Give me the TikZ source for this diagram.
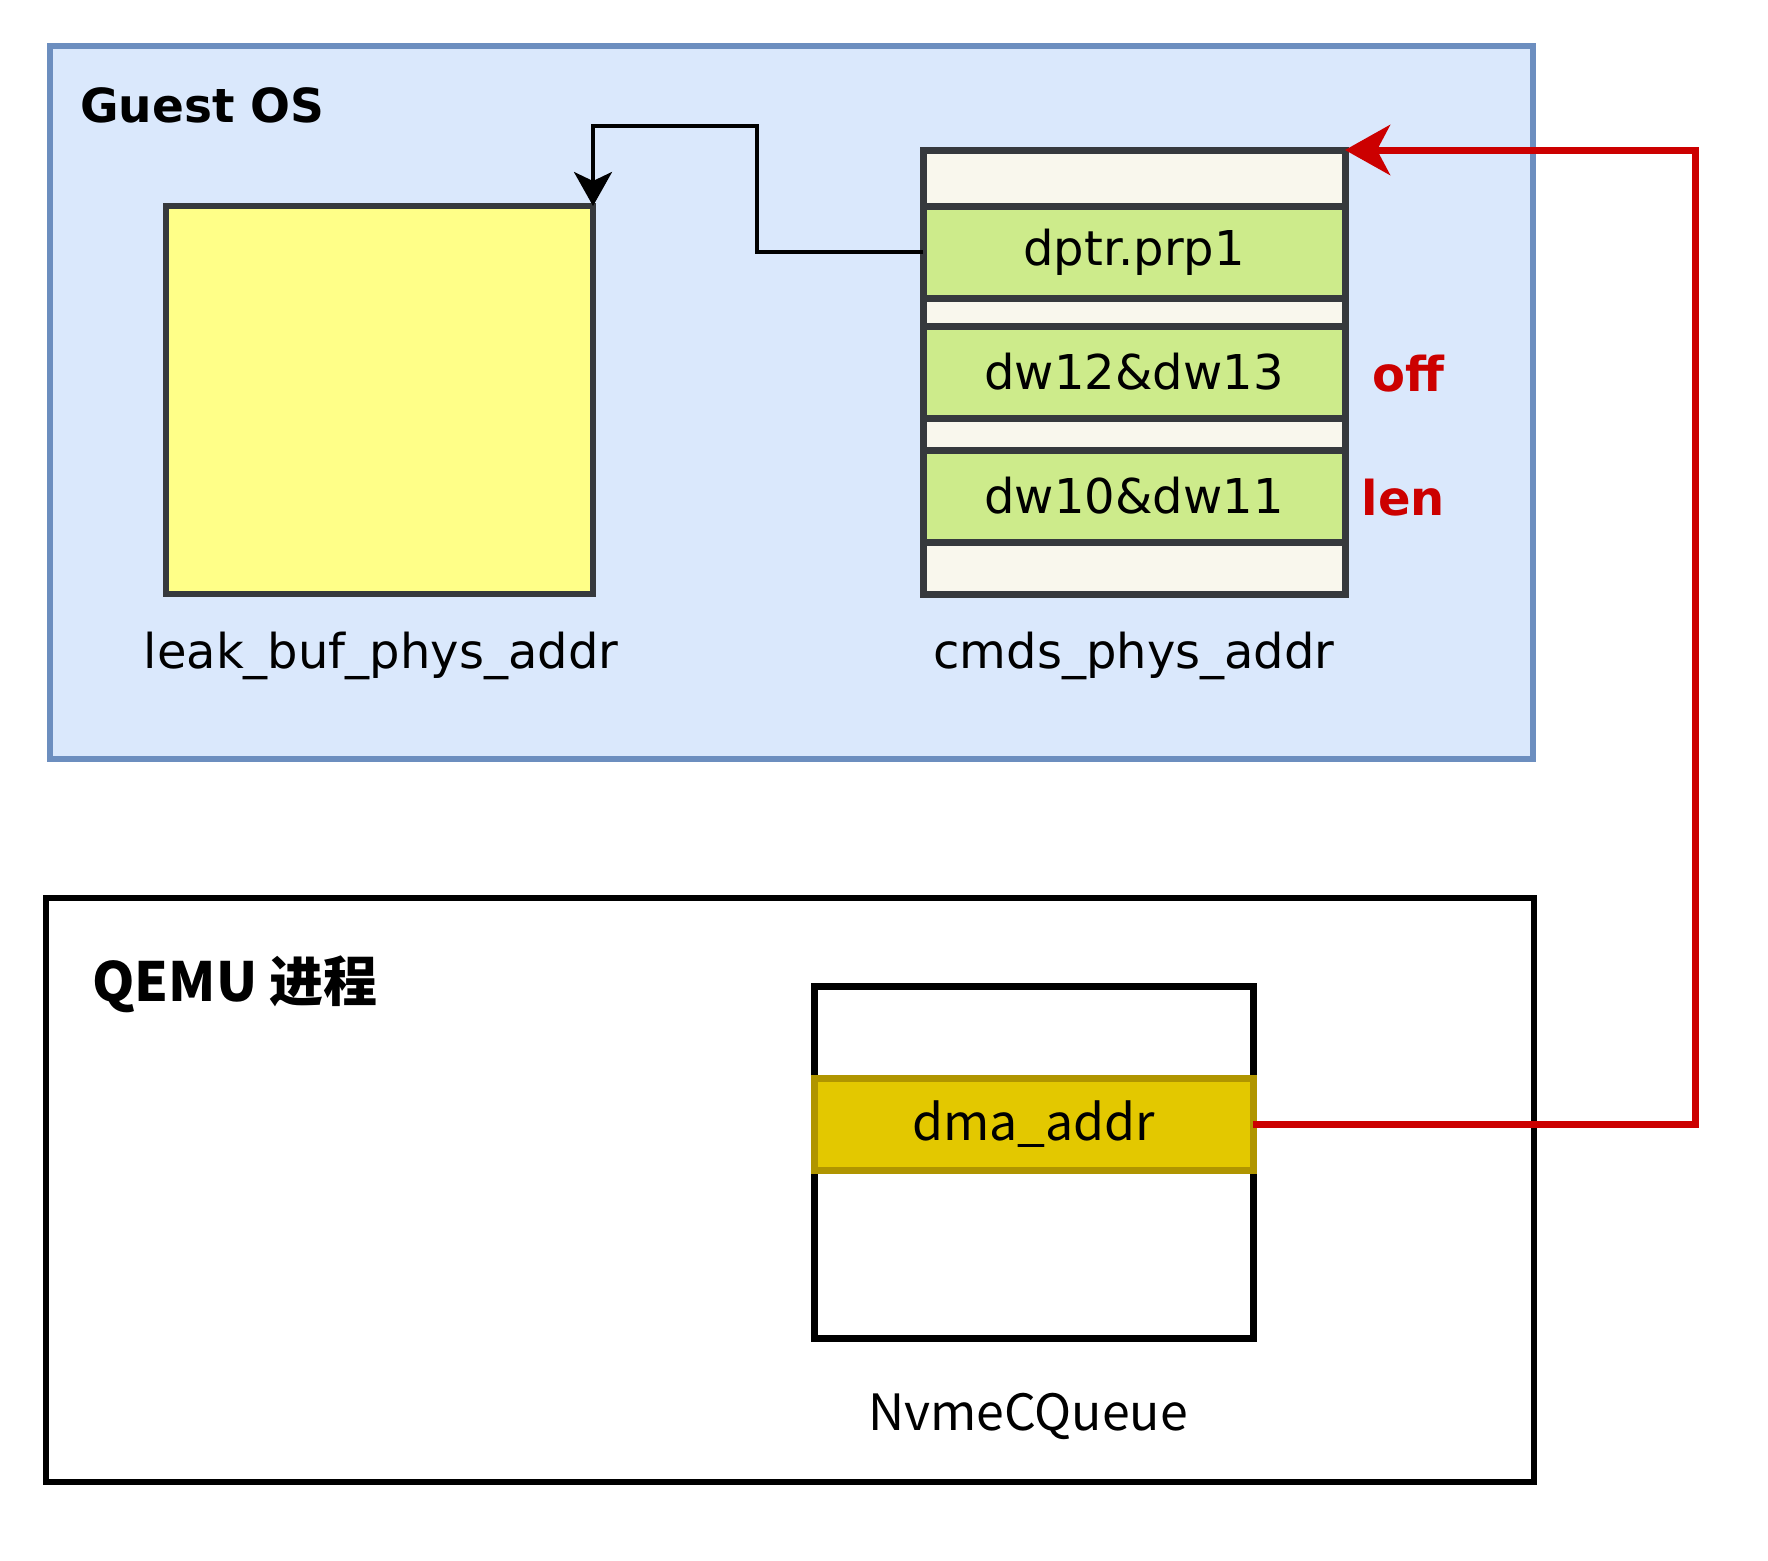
\documentclass[tikz,border=0pt]{standalone}
\usepackage{fontspec}
\setmainfont{DejaVu Sans}
\newfontfamily\cjkfont{Noto Sans CJK SC}
\usetikzlibrary{arrows.meta}
\definecolor{guestfill}{HTML}{DAE8FC}
\definecolor{gueststroke}{HTML}{6C8EBF}
\definecolor{bufyellow}{HTML}{FFFF88}
\definecolor{cellgray}{HTML}{36393D}
\definecolor{cellblank}{HTML}{F9F7ED}
\definecolor{cellgreen}{HTML}{CDEB8B}
\definecolor{dmafill}{HTML}{E3C800}
\definecolor{dmastroke}{HTML}{B09500}
\definecolor{ptrred}{HTML}{CC0000}
\tikzset{
  box/.style={draw=cellgray, line width=6pt, inner sep=0pt, outer sep=0pt},
  cell/.style={draw=cellgray, line width=7pt, inner sep=0pt, outer sep=0pt,
    minimum width=422pt, font=\fontsize{48}{56}\selectfont},
  lbl/.style={inner sep=0pt, font=\fontsize{48}{56}\selectfont},
  redlbl/.style={inner sep=0pt, text=ptrred, font=\fontsize{48}{56}\selectfont\bfseries},
  qlbl/.style={inner sep=0pt, font=\cjkfont\fontsize{50}{58}\selectfont},
}

\begin{document}
\begin{tikzpicture}[x=1pt,y=-1pt]
          \useasboundingbox (0,0) rectangle (1768,1560);

          % --- 1. Guest OS 外框 ---
          \node[draw=gueststroke, fill=guestfill, line width=6pt, inner sep=0pt,
            minimum width=1483pt, minimum height=713pt] (guest) at (791.5,402.5) {};
          \node[inner sep=0pt, anchor=base west, font=\fontsize{47}{55}\selectfont\bfseries]
            (guestname) at (80,122) {Guest OS};

          % --- 2. leak buffer ---
          \node[box, fill=bufyellow, minimum width=427pt, minimum height=388pt] (buf) at (379.5,400) {};
          \node[lbl, anchor=base] (bufname) at (381,668) {leak\_buf\_phys\_addr};

          % --- 3. cmds 各欄位 (由上而下) ---
          \node[cell, fill=cellblank, minimum height=56pt] (blank0) at (1134,178) {};
          \node[cell, fill=cellgreen, minimum height=92pt] (dptr) at (1134,252) {\raisebox{-4pt}{dptr.prp1}};
          \node[cell, fill=cellblank, minimum height=28pt] (blank1) at (1134,312) {};
          \node[cell, fill=cellgreen, minimum height=92pt] (dw12) at (1134,372) {dw12\&dw13};
          \node[cell, fill=cellblank, minimum height=32pt] (blank2) at (1134,434) {};
          \node[cell, fill=cellgreen, minimum height=92pt] (dw10) at (1134,496) {dw10\&dw11};
          \node[cell, fill=cellblank, minimum height=52pt] (blank3) at (1134,568) {};
          \node[lbl, anchor=base] (cmdsname) at (1134,668) {cmds\_phys\_addr};
          \node[redlbl, anchor=base east] (off) at (1445,391) {off};
          \node[redlbl, anchor=base east] (len) at (1445,515) {len};

          % --- 4. QEMU 進程與 NvmeCQueue ---
          \node[draw=black, line width=6pt, inner sep=0pt,
            minimum width=1488pt, minimum height=584pt] (qemu) at (790,1190) {};
          \node[inner sep=0pt, anchor=base west, font=\cjkfont\bfseries\fontsize{54}{62}\selectfont]
            (qemuname) at (92,1001) {QEMU 进程};
          \node[draw=black, line width=7pt, inner sep=0pt, outer sep=0pt,
            minimum width=439pt, minimum height=352pt] (cq) at (1033.5,1162) {};
          \node[qlbl, draw=dmastroke, fill=dmafill, line width=7pt, outer sep=0pt,
            minimum width=439pt, minimum height=92pt] (dma) at (1033.5,1124) {dma\_addr};
          \node[qlbl, anchor=base] (cqname) at (1028,1430) {NvmeCQueue};

          % --- 5. 指標連線 ---
          \coordinate (bend) at (757,126);
          \coordinate (redturn) at (1695,150);
          \draw[line width=3.5pt, -{Stealth[length=34pt,width=38pt,inset=9pt]}]
            (dptr.west) -| (bend) -| (buf.north east);
          \draw[ptrred, line width=7pt, -{Stealth[length=45pt,width=50pt,inset=13pt]}]
            (dma.east) -| (redturn) -- (blank0.north east);

      \end{tikzpicture}
\end{document}
